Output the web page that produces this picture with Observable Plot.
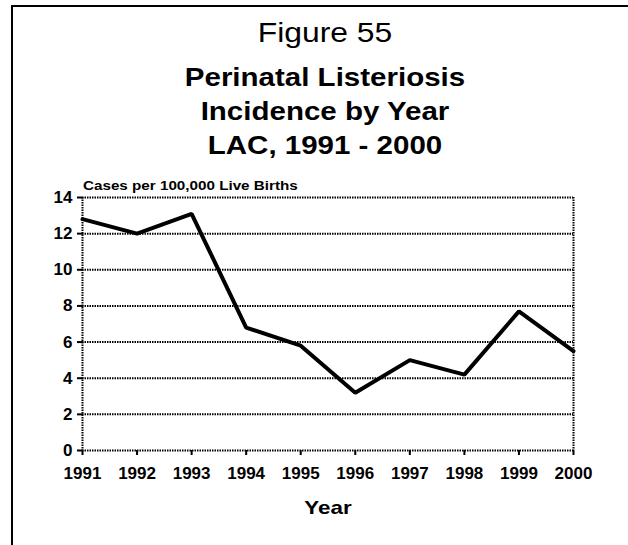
<!DOCTYPE html>
<html>
<head>
<meta charset="utf-8">
<script src="https://cdn.jsdelivr.net/npm/d3@7"></script>
<script src="https://cdn.jsdelivr.net/npm/@observablehq/plot@0.6"></script>
<style>
  html, body { margin: 0; padding: 0; background: #fff; }
  #wrap { position: relative; width: 628px; height: 545px; overflow: hidden; background: #fff; font-family: "Liberation Sans", Arial, sans-serif; color: #000; }
  #frame { position: absolute; left: 11px; top: 5px; width: 700px; height: 700px; border-top: 2px solid #000; border-left: 2px solid #000; }
  .t { position: absolute; white-space: nowrap; line-height: 1; transform: translateX(-50%) scaleX(1.18); }
  .l { position: absolute; white-space: nowrap; line-height: 1; transform-origin: 0 50%; transform: scaleX(1.17); }
  #chart { position: absolute; left: 0; top: 0; }
</style>
</head>
<body>
<div id="wrap">
  <div id="frame"></div>
  <div id="chart"></div>
</div>
<script>
const figureLabel = "Figure 55";
const titleLines = ["Perinatal Listeriosis", "Incidence by Year", "LAC, 1991 - 2000"];
const yLabel = "Cases per 100,000 Live Births";
const xLabel = "Year";
const years = [1991, 1992, 1993, 1994, 1995, 1996, 1997, 1998, 1999, 2000];
const rates = [12.8, 12.0, 13.1, 6.8, 5.8, 3.2, 5.0, 4.2, 7.7, 5.5];
const yTicks = [0, 2, 4, 6, 8, 10, 12, 14];

const data = years.map((y, i) => ({year: y, rate: rates[i]}));
const wrap = document.getElementById("wrap");

function addText(txt, cls, styles) {
  const d = document.createElement("div");
  d.className = cls;
  d.textContent = txt;
  Object.assign(d.style, styles);
  wrap.appendChild(d);
}

addText(figureLabel, "t", {left: "325px", top: "20px", fontSize: "27px", fontWeight: "normal"});
titleLines.forEach((s, i) => addText(s, "t", {left: "325px", top: (65 + i * 34) + "px", fontSize: "25px", fontWeight: "bold"}));
addText(yLabel, "l", {left: "83px", top: "179px", fontSize: "13px", fontWeight: "bold"});
addText(xLabel, "t", {left: "328px", top: "498px", fontSize: "19px", fontWeight: "bold"});

const dotted = {stroke: "#000", strokeWidth: 2, strokeDasharray: "1.5,1"};

const chart = Plot.plot({
  width: 628,
  height: 545,
  marginLeft: 82,
  marginRight: 55,
  marginTop: 197,
  marginBottom: 95,
  x: {domain: [years[0], years[years.length - 1]]},
  y: {domain: [yTicks[0], yTicks[yTicks.length - 1]]},
  style: {fontFamily: "'Liberation Sans', Arial, sans-serif", fontSize: "17px", fontWeight: "bold", color: "#000", background: "transparent", overflow: "visible"},
  marks: [
    Plot.ruleY(yTicks, dotted),
    Plot.ruleX([years[0], years[years.length - 1]], dotted),
    Plot.axisX({ticks: years, tickFormat: d => String(d), tickSize: 5, tickPadding: 11, strokeWidth: 2, fontSize: 17, fontWeight: "bold", label: null}),
    Plot.axisY({ticks: yTicks, tickSize: 5, tickPadding: 5, strokeWidth: 2, fontSize: 17, fontWeight: "bold", label: null}),
    Plot.line(data, {x: "year", y: "rate", stroke: "#000", strokeWidth: 4, strokeLinejoin: "miter"})
  ]
});
document.getElementById("chart").appendChild(chart);
</script>
</body>
</html>
